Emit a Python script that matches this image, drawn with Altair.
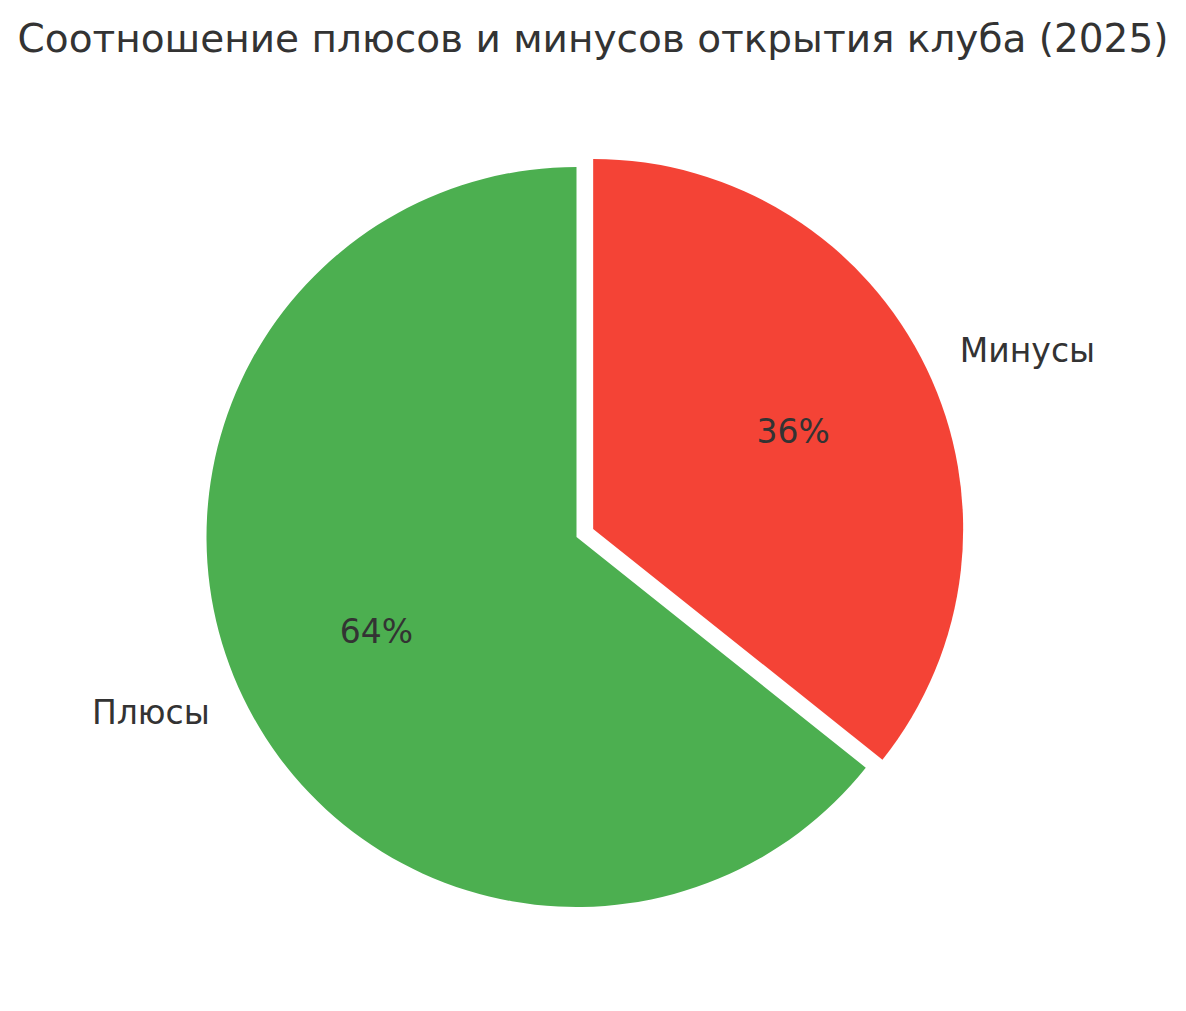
import altair as alt
import pandas as pd

# Data (matplotlib order: counter-clockwise from 12 o'clock)
labels = ["Плюсы", "Минусы"]
values = [9, 5]
explode = [0.0, 0.05]
colors = ["#4CAF50", "#F44336"]
title_text = "Соотношение плюсов и минусов открытия клуба (2025)"

W, H = 1170, 990
CX, CY = 568.5, 529.0
R = 370
FONT = "DejaVu Sans"
TXT = "#333333"

df = pd.DataFrame({"label": labels, "value": values, "explode": explode, "order": [0, 1]})

base = (
    alt.Chart(df)
    .transform_window(cum="sum(value)", sort=[alt.SortField("order")], frame=[None, 0])
    .transform_joinaggregate(total="sum(value)")
    .transform_calculate(
        cb="datum.cum - datum.value",
    )
    .transform_calculate(
        t0=f"-2*PI*datum.cum/datum.total",
        t1=f"-2*PI*datum.cb/datum.total",
        mid=f"-PI*(datum.cum + datum.cb)/datum.total",
        pct="format(100*datum.value/datum.total, '.0f') + '%'",
    )
    .transform_calculate(
        px=f"{CX} + sin(datum.mid)*datum.explode*{R}",
        py=f"{CY} - cos(datum.mid)*datum.explode*{R}",
    )
    .transform_calculate(
        lx=f"datum.px + sin(datum.mid)*1.1*{R}",
        ly=f"datum.py - cos(datum.mid)*1.1*{R}",
        qx=f"datum.px + sin(datum.mid)*0.6*{R}",
        qy=f"datum.py - cos(datum.mid)*0.6*{R}",
        side="sin(datum.mid) > 0 ? 'r' : 'l'",
    )
)

arcs = base.mark_arc(outerRadius=R, stroke=None).encode(
    theta=alt.Theta("t0:Q", scale=None),
    theta2="t1:Q",
    x=alt.X("px:Q", scale=None, axis=None),
    y=alt.Y("py:Q", scale=None, axis=None),
    color=alt.Color("label:N", scale=alt.Scale(domain=labels, range=colors), legend=None),
)

lab_r = base.transform_filter("datum.side == 'r'").mark_text(
    align="left", baseline="middle", font=FONT, fontSize=33, color=TXT
).encode(
    x=alt.X("lx:Q", scale=None), y=alt.Y("ly:Q", scale=None), text="label:N"
)
lab_l = base.transform_filter("datum.side == 'l'").mark_text(
    align="right", baseline="middle", font=FONT, fontSize=33, color=TXT
).encode(
    x=alt.X("lx:Q", scale=None), y=alt.Y("ly:Q", scale=None), text="label:N"
)
pcts = base.mark_text(
    align="center", baseline="middle", font=FONT, fontSize=33, color=TXT
).encode(
    x=alt.X("qx:Q", scale=None), y=alt.Y("qy:Q", scale=None), text="pct:N"
)

title = alt.Chart(pd.DataFrame({"t": [title_text]})).mark_text(
    align="center", baseline="alphabetic", font=FONT, fontSize=39, color=TXT
).encode(x=alt.value(585), y=alt.value(44), text="t:N")

chart = (
    alt.layer(arcs, lab_r, lab_l, pcts, title)
    .properties(width=W, height=H, autosize=alt.AutoSizeParams(type="none"), padding=0)
    .configure_view(stroke=None)
)

chart.save("out.html", embed_options={"renderer": "svg", "actions": False})
